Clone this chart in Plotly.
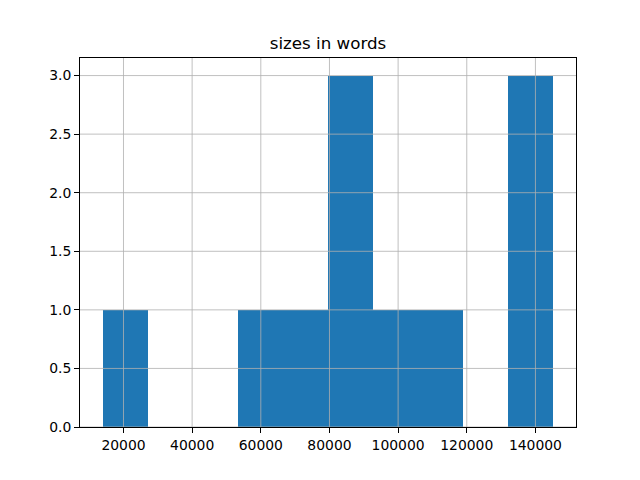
import plotly.graph_objects as go

bin_edges = [13900, 27035, 40170, 53305, 66440, 79575, 92710, 105845, 118980, 132115, 145250]
counts = [1, 0, 0, 1, 1, 3, 1, 1, 0, 3]
x_ticks = [20000, 40000, 60000, 80000, 100000, 120000, 140000]
y_ticks = [0.0, 0.5, 1.0, 1.5, 2.0, 2.5, 3.0]
title = "sizes in words"

lefts = bin_edges[:-1]
widths = [b - a for a, b in zip(bin_edges[:-1], bin_edges[1:])]

fig = go.Figure(go.Bar(
    x=lefts, y=counts, width=widths, offset=0,
    marker=dict(color="#1f77b4", line=dict(width=0)),
))

span = bin_edges[-1] - bin_edges[0]
xr = [bin_edges[0] - 0.05 * span, bin_edges[-1] + 0.05 * span]
yr = [0, max(counts) * 1.05]

shapes = []
for t in x_ticks:
    shapes.append(dict(type="line", xref="x", yref="paper", x0=t, x1=t, y0=0, y1=1,
                       line=dict(color="#b0b0b0", width=0.8), layer="above"))
for t in y_ticks:
    shapes.append(dict(type="line", xref="paper", yref="y", x0=0, x1=1, y0=t, y1=t,
                       line=dict(color="#b0b0b0", width=0.8), layer="above"))

fig.update_layout(
    width=640, height=480,
    margin=dict(l=72, r=72, t=50, b=61),
    paper_bgcolor="white", plot_bgcolor="white",
    font=dict(family="DejaVu Sans", size=13.9, color="black"),
    title=dict(text=title, x=0.5, xanchor="center", xref="paper",
               y=1 - 35 / 480, yref="container", yanchor="middle",
               font=dict(size=16.7, color="black")),
    showlegend=False,
    bargap=0,
    shapes=shapes,
    xaxis=dict(range=xr, tickvals=x_ticks, tickformat="d", showgrid=False, zeroline=False,
               showline=True, mirror=True, linecolor="black", linewidth=1,
               ticks="outside", ticklen=5, tickcolor="black", tickwidth=1),
    yaxis=dict(range=yr, tickvals=y_ticks, tickformat=".1f", showgrid=False, zeroline=False,
               showline=True, mirror=True, linecolor="black", linewidth=1,
               ticks="outside", ticklen=5, tickcolor="black", tickwidth=1),
)

fig.write_html("out.html")
